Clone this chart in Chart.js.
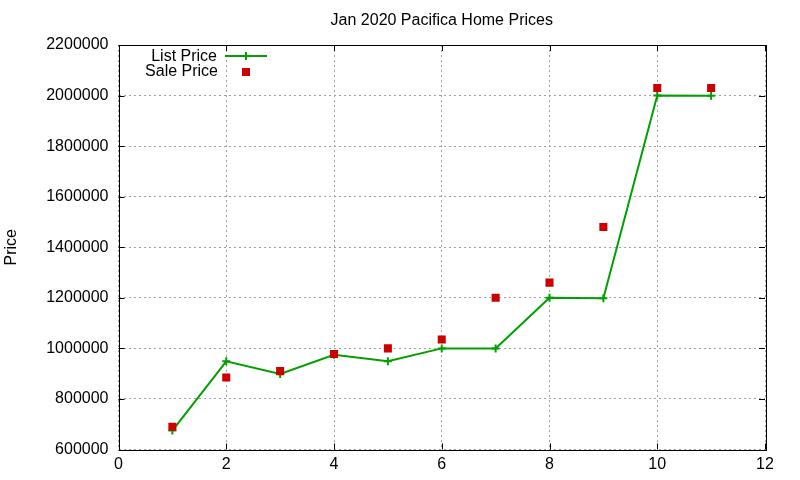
<!DOCTYPE html>
<html>
<head>
<meta charset="utf-8">
<script src="https://cdn.jsdelivr.net/npm/chart.js@4"></script>
<style>
  html, body { margin: 0; padding: 0; background: #fff; }
  #wrap { width: 800px; height: 480px; }
</style>
</head>
<body>
<div id="wrap"><canvas id="price-chart"></canvas></div>
<script>
// listings, Jan 2020
const months = [1, 2, 3, 4, 5, 6, 7, 8, 9, 10, 11];
const listPrice = [675000, 949000, 899000, 975000, 949000, 1000000, 1000000, 1200000, 1198000, 2000000, 1999000];
const salePrice = [690000, 885000, 910000, 978000, 1000000, 1035000, 1200000, 1260000, 1480000, 2030000, 2030000];
const xTicks = [0, 2, 4, 6, 8, 10, 12];
const yTicks = [600000, 800000, 1000000, 1200000, 1400000, 1600000, 1800000, 2000000, 2200000];
const chartTitle = "Jan 2020 Pacifica Home Prices";

const green = "rgb(0,160,0)";
const red = "rgb(204,0,0)";
const font = "Liberation Sans";

// gnuplot style frame, inward ticks on all sides, title over the plot and the legend in the corner
const framePlugin = {
    id: "frame",
    afterDraw(chart) {
        const ctx = chart.ctx;
        const a = chart.chartArea;
        const xs = chart.scales.x, ys = chart.scales.y;
        const tl = 6;
        ctx.save();
        ctx.strokeStyle = "#000";
        ctx.lineWidth = 1;
        ctx.strokeRect(Math.round(a.left) + 0.5, Math.round(a.top) + 0.5,
            Math.round(a.right - a.left), Math.round(a.bottom - a.top));
        ctx.beginPath();
        xTicks.forEach(v => {
            let px = Math.round(xs.getPixelForValue(v)) + 0.5;
            ctx.moveTo(px, a.bottom); ctx.lineTo(px, a.bottom - tl);
            ctx.moveTo(px, a.top); ctx.lineTo(px, a.top + tl);
        });
        yTicks.forEach(v => {
            let py = Math.round(ys.getPixelForValue(v)) + 0.5;
            ctx.moveTo(a.left, py); ctx.lineTo(a.left + tl, py);
            ctx.moveTo(a.right, py); ctx.lineTo(a.right - tl, py);
        });
        ctx.stroke();

        ctx.font = "16px '" + font + "'";
        ctx.fillStyle = "#000";
        ctx.textBaseline = "middle";
        ctx.textAlign = "center";
        ctx.fillText(chartTitle, (a.left + a.right) / 2, 21);

        // legend
        ctx.textAlign = "right";
        ctx.fillText("List Price", 217, 57);
        ctx.fillText("Sale Price", 218, 72);

        ctx.strokeStyle = green;
        ctx.lineWidth = 2;
        ctx.beginPath();
        ctx.moveTo(225, 56); ctx.lineTo(267, 56);
        ctx.moveTo(246, 52); ctx.lineTo(246, 60);
        ctx.stroke();

        ctx.fillStyle = red;
        ctx.fillRect(242, 68, 8, 8);
        ctx.restore();
    }
};

new Chart(document.getElementById("price-chart"), {
    type: "line",
    data: {
        datasets: [
            {
                label: "Sale Price",
                data: months.map((m, i) => ({ x: m, y: salePrice[i] })),
                showLine: false,
                pointStyle: "rect",
                pointRadius: 5.7,
                pointHoverRadius: 5.7,
                pointBackgroundColor: red,
                pointBorderWidth: 0,
                borderColor: red,
                order: 0
            },
            {
                label: "List Price",
                data: months.map((m, i) => ({ x: m, y: listPrice[i] })),
                borderColor: green,
                borderWidth: 2,
                tension: 0,
                pointStyle: "cross",
                pointRadius: 4,
                pointHoverRadius: 4,
                pointBorderColor: green,
                pointBorderWidth: 2,
                order: 1
            }
        ]
    },
    options: {
        responsive: true,
        maintainAspectRatio: false,
        animation: false,
        events: [],
        layout: { padding: { left: 0, right: 35, top: 45, bottom: 0 } },
        plugins: {
            legend: { display: false },
            tooltip: { enabled: false },
            title: { display: false }
        },
        scales: {
            x: {
                type: "linear",
                min: 0,
                max: 12,
                afterFit: scale => { scale.height = 30.5; },
                afterBuildTicks: scale => { scale.ticks = xTicks.map(v => ({ value: v })); },
                ticks: { color: "#000", font: { family: font, size: 16 }, padding: 5, maxRotation: 0 },
                grid: { color: "#a0a0a0", lineWidth: 1, drawTicks: false },
                border: { display: false, dash: [2, 3] }
            },
            y: {
                type: "linear",
                min: 600000,
                max: 2200000,
                afterFit: scale => { scale.width = 118.5; },
                afterBuildTicks: scale => { scale.ticks = yTicks.map(v => ({ value: v })); },
                ticks: { color: "#000", font: { family: font, size: 16 }, padding: 10, callback: v => String(v) },
                grid: { color: "#a0a0a0", lineWidth: 1, drawTicks: false },
                border: { display: false, dash: [2, 3] },
                title: {
                    display: true,
                    text: "Price",
                    color: "#000",
                    font: { family: font, size: 16 },
                    padding: { top: 2, bottom: 0 }
                }
            }
        }
    },
    plugins: [framePlugin]
});
</script>
</body>
</html>
